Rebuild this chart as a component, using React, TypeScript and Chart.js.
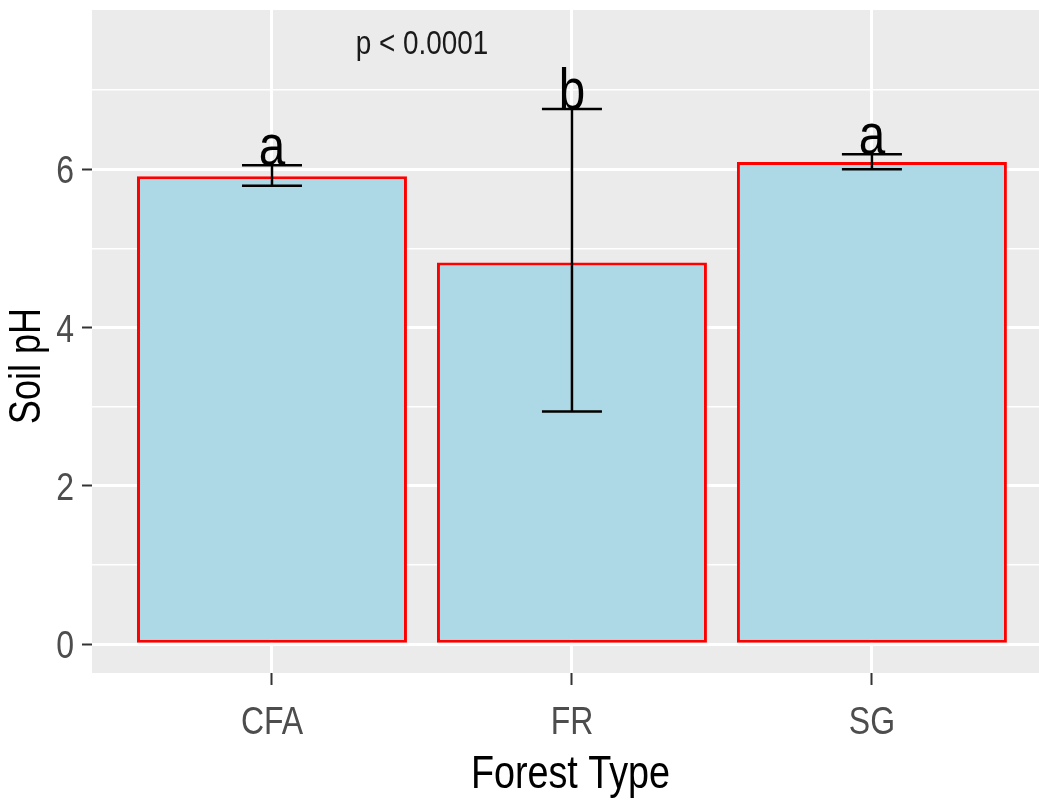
import { useEffect, useRef } from "react";
import { Chart, registerables } from "chart.js";

Chart.register(...registerables);

// Soil pH by forest type: mean with error range and group letters
const forestTypes = ["CFA", "FR", "SG"];
const meanPH = [5.91, 4.82, 6.09];
const lowerPH = [5.79, 2.94, 6.0];
const upperPH = [6.05, 6.76, 6.19];
const groupLetters = ["a", "b", "a"];
const pValueText = "p < 0.0001";
const yTickValues = [0, 1, 2, 3, 4, 5, 6, 7];
const xTitle = "Forest Type";
const yTitle = "Soil pH";

const FONT = "'Liberation Sans', Arial, sans-serif";
const NARROW = 0.82; // horizontal squeeze for a narrow sans look
const PANEL_BG = "#EBEBEB";

function narrowText(ctx: CanvasRenderingContext2D, text: string, x: number, y: number, rotation = 0) {
  ctx.save();
  ctx.translate(x, y);
  if (rotation) ctx.rotate(rotation);
  ctx.scale(NARROW, 1);
  ctx.fillText(text, 0, 0);
  ctx.restore();
}

const isMajor = (v: number) => v % 2 === 0;

const panelPlugin = {
  id: "panelBackground",
  beforeDraw(chart: any) {
    const { ctx, chartArea, width, height } = chart;
    ctx.save();
    ctx.fillStyle = "#FFFFFF";
    ctx.fillRect(0, 0, width, height);
    ctx.fillStyle = PANEL_BG;
    ctx.fillRect(chartArea.left, chartArea.top, chartArea.right - chartArea.left, chartArea.bottom - chartArea.top);
    ctx.restore();
  },
};

const annotatePlugin = {
  id: "annotations",
  afterDatasetsDraw(chart: any) {
    const { ctx, scales } = chart;
    const x = scales.x;
    const y = scales.y;
    ctx.save();
    // error bars
    ctx.strokeStyle = "#000000";
    ctx.lineWidth = 2.5;
    forestTypes.forEach((_, i) => {
      const cx = x.getPixelForValue(i);
      const half = x.getPixelForValue(i + 0.1) - cx;
      const yl = y.getPixelForValue(lowerPH[i]);
      const yu = y.getPixelForValue(upperPH[i]);
      ctx.beginPath();
      ctx.moveTo(cx, yl);
      ctx.lineTo(cx, yu);
      ctx.moveTo(cx - half, yl);
      ctx.lineTo(cx + half, yl);
      ctx.moveTo(cx - half, yu);
      ctx.lineTo(cx + half, yu);
      ctx.stroke();
    });
    // significance letters sitting on the upper error value
    ctx.fillStyle = "#000000";
    ctx.font = `58px ${FONT}`;
    ctx.textAlign = "center";
    ctx.textBaseline = "alphabetic";
    forestTypes.forEach((_, i) => {
      narrowText(ctx, groupLetters[i], x.getPixelForValue(i), y.getPixelForValue(upperPH[i]));
    });
    // overall test result
    ctx.font = `34px ${FONT}`;
    ctx.fillStyle = "#1A1A1A";
    ctx.textBaseline = "middle";
    narrowText(ctx, pValueText, x.getPixelForValue(0.5), y.getPixelForValue(7.57));
    ctx.restore();
  },
  afterDraw(chart: any) {
    const { ctx, chartArea, scales } = chart;
    const x = scales.x;
    const y = scales.y;
    ctx.save();
    // tick labels
    ctx.fillStyle = "#4D4D4D";
    ctx.font = `39px ${FONT}`;
    ctx.textBaseline = "alphabetic";
    ctx.textAlign = "center";
    x.ticks.forEach((t: any) => {
      narrowText(ctx, forestTypes[t.value], x.getPixelForValue(t.value), 734);
    });
    ctx.textAlign = "right";
    y.ticks.forEach((t: any) => {
      if (!isMajor(t.value)) return;
      narrowText(ctx, String(t.value), 74, y.getPixelForValue(t.value) + 14);
    });
    // axis titles
    ctx.fillStyle = "#000000";
    ctx.textAlign = "center";
    ctx.textBaseline = "middle";
    ctx.font = `46px ${FONT}`;
    narrowText(ctx, xTitle, (chartArea.left + chartArea.right) / 2 + 5, 775);
    ctx.font = `44px ${FONT}`;
    narrowText(ctx, yTitle, 28, 366, -Math.PI / 2);
    ctx.restore();
  },
};

export default function App() {
  const canvasRef = useRef<HTMLCanvasElement | null>(null);

  useEffect(() => {
    document.body.style.margin = "0";
    const canvas = canvasRef.current;
    if (!canvas) return;
    const chart = new Chart(canvas, {
      type: "bar",
      data: {
        datasets: [
          {
            data: meanPH.map((v, i) => ({ x: i, y: v })),
            backgroundColor: "#ADD8E6",
            borderColor: "#FF0000",
            borderWidth: 3,
            borderSkipped: false,
            barPercentage: 0.9,
            categoryPercentage: 1,
          },
        ],
      },
      options: {
        responsive: false,
        animation: false,
        layout: { padding: { top: 10, left: 0, right: 0, bottom: 0 } },
        plugins: {
          legend: { display: false },
          tooltip: { enabled: false },
        },
        scales: {
          x: {
            type: "linear",
            offset: false,
            min: -0.6,
            max: 2.557,
            afterBuildTicks(scale: any) {
              scale.ticks = forestTypes.map((_, i) => ({ value: i }));
            },
            afterFit(scale: any) {
              scale.height = 137;
              scale.paddingLeft = 0;
              scale.paddingRight = 0;
            },
            ticks: { display: false },
            grid: {
              offset: false,
              color: "#FFFFFF",
              lineWidth: 3,
              tickColor: "#333333",
              tickLength: 12,
              tickWidth: 2,
            },
            border: { display: false },
          },
          y: {
            type: "linear",
            min: -0.362,
            max: 8.01,
            afterBuildTicks(scale: any) {
              scale.ticks = yTickValues.map((v) => ({ value: v }));
            },
            afterFit(scale: any) {
              scale.width = 92;
              scale.paddingTop = 0;
              scale.paddingBottom = 0;
            },
            ticks: { display: false },
            grid: {
              color: "#FFFFFF",
              lineWidth: (c: any) => (c.tick && isMajor(c.tick.value) ? 3 : 1.5),
              tickColor: (c: any) => (c.tick && isMajor(c.tick.value) ? "#333333" : "rgba(0,0,0,0)"),
              tickLength: 10,
              tickWidth: 2,
            },
            border: { display: false },
          },
        },
      },
      plugins: [panelPlugin, annotatePlugin],
    } as any);
    return () => chart.destroy();
  }, []);

  return (
    <div style={{ width: 1039, height: 810 }}>
      <canvas ref={canvasRef} width={1039} height={810} style={{ display: "block" }} />
    </div>
  );
}
